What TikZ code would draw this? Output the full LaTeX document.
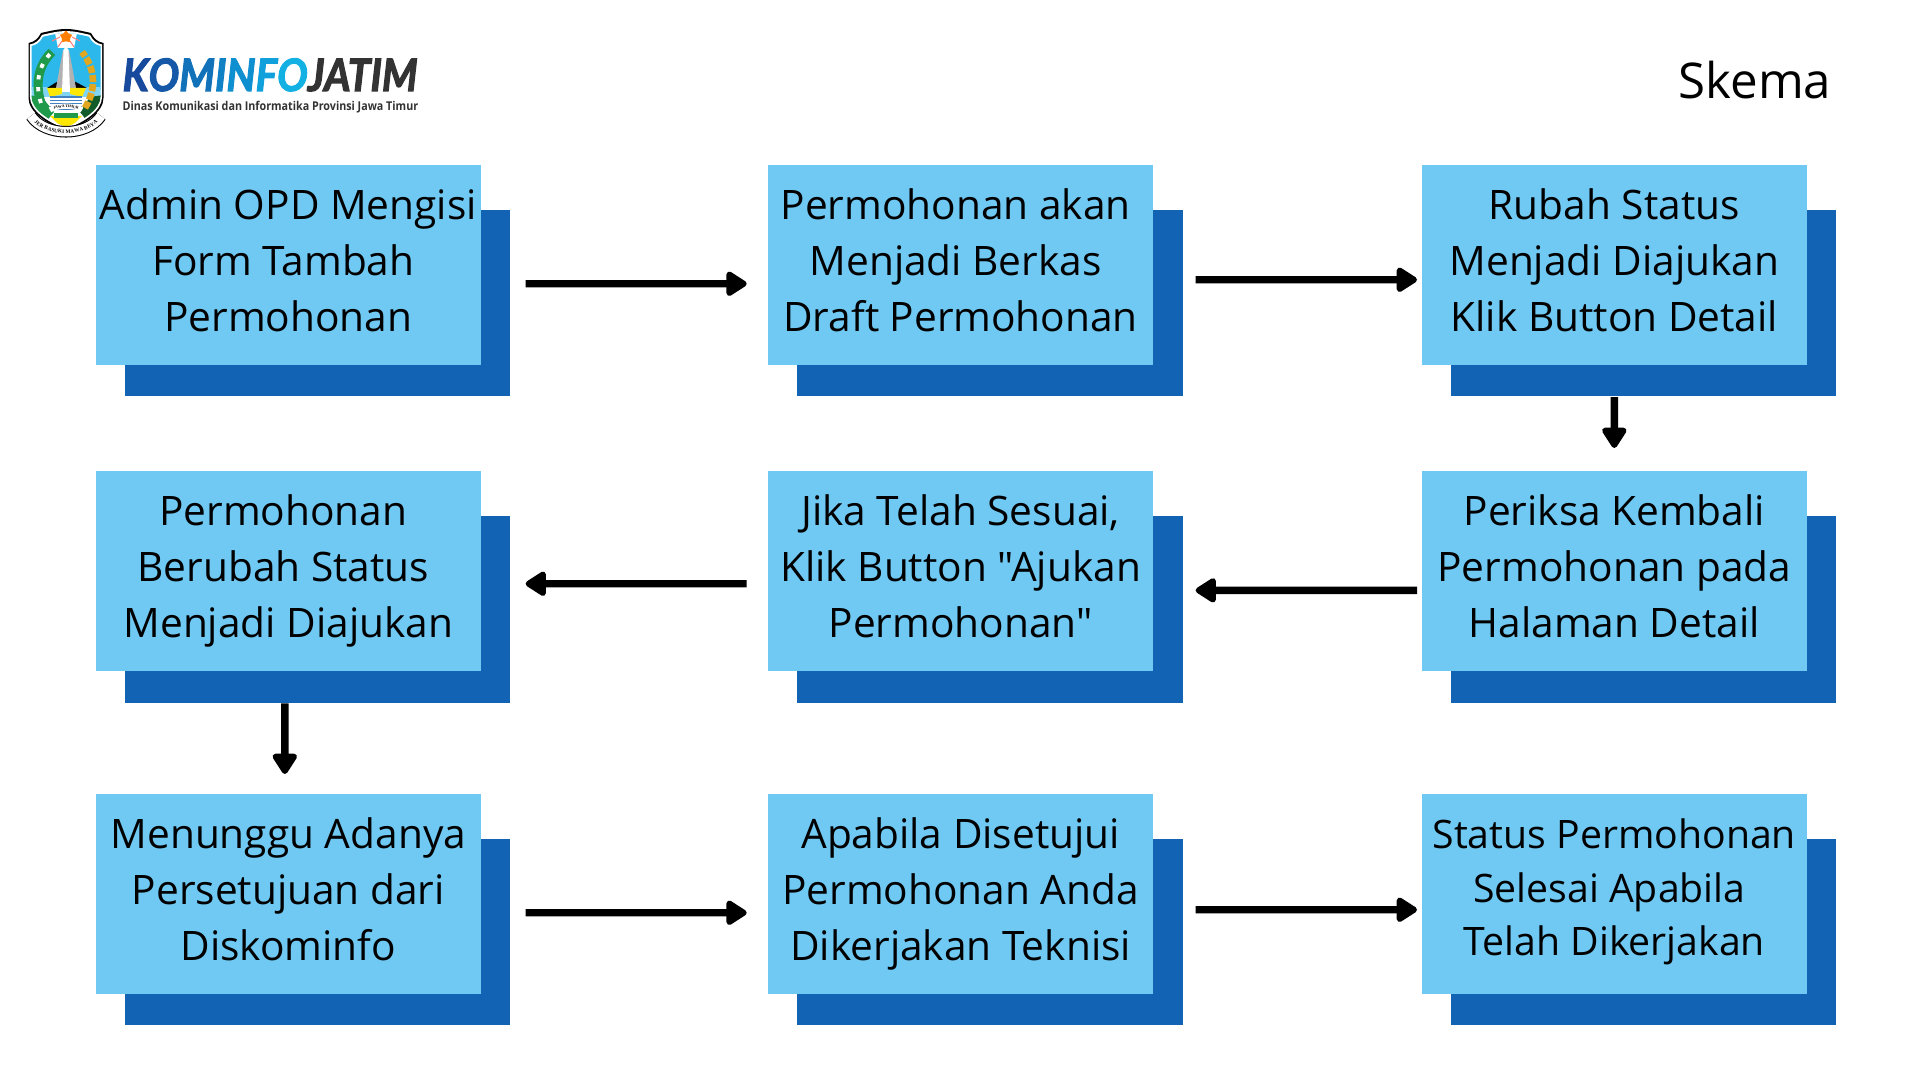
\documentclass[tikz,border=0pt]{standalone}
\usepackage{fontspec}
\setmainfont{Open Sans}[Ligatures=TeXOff]
\newfontfamily\ribbonfont{Liberation Serif}
\newfontfamily\logofont{Lato}[BoldItalicFeatures={FakeBold=2.6}]
\usetikzlibrary{arrows.meta,shapes.geometric,decorations.text}
\definecolor{boxlight}{HTML}{70C9F3}
\definecolor{boxdark}{HTML}{1263B3}
\definecolor{fieldsky}{HTML}{2DB8EC}
\definecolor{leafgreen}{HTML}{1E9A4A}
\definecolor{wheatgold}{HTML}{E3A71F}
\definecolor{logogrey}{HTML}{333333}
\newcommand{\shieldoutline}{(28.5,43) .. controls (34,42) and (38,39) .. (41,33) .. controls (50,31) and (58,29) .. (66,29) .. controls (74,29) and (82,31) .. (91,33) .. controls (94,39) and (98,42) .. (103.5,43) -- (103.5,98) .. controls (103.5,112) and (85,124) .. (66,131) .. controls (47,124) and (28.5,112) .. (28.5,98) -- cycle}
\newcommand{\logoletter}[2]{\textcolor[HTML]{#1}{#2}}
\newcommand{\nudge}{\rule{1mm}{0pt}}
\tikzset{
  lightbox/.style={fill=boxlight, minimum width=3.85cm, minimum height=1.997cm, inner sep=0pt, anchor=north west, align=center, font=\fontsize{11.55}{15.93}\selectfont,
    execute at begin node={\rule{0pt}{10pt}}, execute at end node={\rule[-2.54pt]{0pt}{0pt}}},
  darkbox/.style={fill=boxdark, minimum width=3.855cm, minimum height=1.86cm, inner sep=0pt, anchor=north west},
  flowarrow/.style={line width=2.1pt, -{Triangle[round,length=2.3mm,width=2.75mm,line width=.6mm]}},
}
\begin{document}
\begin{tikzpicture}[x=0.01cm, y=-0.01cm]
    \useasboundingbox (0, 0) rectangle (1920, 1080);
    \fill[white] (0, 0) rectangle (1920, 1080);

    % emblem
    \fill[black] \shieldoutline;
    \fill[white, shift={(66, 80)}, scale=.96, shift={(-66, -80)}] \shieldoutline;
    \begin{scope}
        \clip[shift={(66, 80)}, scale=.92, shift={(-66, -80)}] \shieldoutline;
        \fill[fieldsky] (25, 25) rectangle (107, 90);
        \fill[white] (54, 28) -- (78, 28) -- (74, 48) -- (58, 48) -- cycle;
        \fill[fieldsky!60!white] (25, 87) rectangle (107, 97);
        \fill[black] (47, 88) -- (60, 80) -- (72, 80) -- (87, 88) -- cycle;
        \fill[gray!60] (56, 88) -- (60, 66) -- (63, 50) -- (69, 50) -- (72, 66) -- (76, 88) -- cycle;
        \fill[white] (62, 92) -- (63.5, 50) -- (66, 46) -- (68.5, 50) -- (70, 92) -- cycle;
        \fill[yellow!90!orange] (47, 88) -- (62, 88) -- (62, 94) -- (50, 97) -- cycle;
        \fill[yellow!90!orange] (70, 88) -- (86, 88) -- (82, 97) -- (70, 94) -- cycle;
        \fill[boxdark!80!white] (50, 96) -- (82, 96) -- (82, 110) -- (50, 110) -- cycle;
        \foreach \wavey in {99, 102, 105}
            \draw[white, line width=.3pt] (50, \wavey) -- (82, \wavey);
        \fill[leafgreen] (28, 95) -- (42, 97) -- (54, 112) -- (46, 122) -- (28, 112) -- cycle;
        \fill[leafgreen!60!black] (104, 95) -- (90, 97) -- (80, 112) -- (88, 122) -- (104, 112) -- cycle;
        \fill[yellow!90!orange] (50, 116) -- (82, 116) -- (66, 132) -- cycle;
        \fill[leafgreen] (54, 113) rectangle (78, 118);
    \end{scope}
    \node[star, star points=5, fill=orange, minimum size=.13cm, inner sep=0pt] (logostar) at (66, 37) {};
    \draw[red!50, line width=.3pt] (52, 41) -- (60, 37) (80, 41) -- (72, 37) (58, 47) -- (62, 41) (74, 47) -- (70, 41);
    \draw[leafgreen, line width=2.6pt] (41, 103) .. controls (35, 85) and (38, 65) .. (52, 52);
    \draw[white, line width=1.1pt, dash pattern=on 1.2pt off 2.2pt] (41, 103) .. controls (35, 85) and (38, 65) .. (52, 52);
    \draw[wheatgold, line width=1.9pt, dash pattern=on 2pt off .6pt] (85, 108) .. controls (97, 88) and (95, 68) .. (82, 52);
    \draw[black, line width=3.3pt] (31, 116) .. controls (45, 137) and (87, 137) .. (101, 116);
    \draw[white, line width=2.7pt] (31, 116) .. controls (45, 137) and (87, 137) .. (101, 116);
    \path[decorate, decoration={text along path, text align=center, raise=-.5pt, text={|\ribbonfont\bfseries\fontsize{1.5}{2}\selectfont|JER BASUKI MAWA BEYA}}] (31, 116) .. controls (45, 137) and (87, 137) .. (101, 116);
    \draw[white, line width=1.5pt] (50, 110) .. controls (56, 105) and (76, 105) .. (82, 110);
    \path[decorate, decoration={text along path, text align=center, raise=-.4pt, text={|\ribbonfont\bfseries\fontsize{1.1}{1.5}\selectfont|JAWA TIMUR}}] (50, 110) .. controls (56, 105) and (76, 105) .. (82, 110);

    % wordmark
    \node[anchor=base west, inner sep=0pt, xscale=.91, font=\logofont\fontsize{12.7}{14}\selectfont\bfseries\itshape] (logoname) at (122, 91) {\logoletter{174A9C}{K}\logoletter{1558A8}{O}\logoletter{1272B9}{M}\logoletter{1181C6}{I}\logoletter{0E8FD0}{N}\logoletter{10A0DB}{F}\logoletter{12B0E3}{O}\logoletter{333333}{JATIM}};
    \node[anchor=base west, inner sep=0pt, xscale=.885, text=logogrey, font=\fontsize{3.45}{4}\selectfont\bfseries] (logosub) at (122, 110.5) {Dinas Komunikasi dan Informatika Provinsi Jawa Timur};
    \node[anchor=base east, inner sep=0pt, font=\fontsize{14}{16}\selectfont] (skema) at (1832, 99) {Skema};

    % row one
    \node[darkbox] (tambahback) at (124, 209.6) {};
    \node[lightbox] (tambah) at (95, 164) {Admin OPD Mengisi\\Form Tambah\nudge\\Permohonan};
    \node[darkbox] (draftback) at (796.3, 209.6) {};
    \node[lightbox] (draft) at (767.3, 164) {Permohonan akan\nudge\\Menjadi Berkas\nudge\\Draft Permohonan};
    \node[darkbox] (rubahback) at (1449.8, 209.6) {};
    \node[lightbox] (rubah) at (1421, 164) {Rubah Status\\Menjadi Diajukan\\Klik Button Detail};

    % row two
    \node[darkbox] (periksaback) at (1449.8, 515.8) {};
    \node[lightbox] (periksa) at (1421, 470.3) {Periksa Kembali\\Permohonan pada\\Halaman Detail};
    \node[darkbox] (ajukanback) at (796.3, 515.8) {};
    \node[lightbox] (ajukan) at (767.3, 470.3) {Jika Telah Sesuai,\\Klik Button "Ajukan\\Permohonan"};
    \node[darkbox] (berubahback) at (124, 515.8) {};
    \node[lightbox] (berubah) at (95, 470.3) {Permohonan\nudge\\Berubah Status\nudge\\Menjadi Diajukan};

    % row three
    \node[darkbox] (tungguback) at (124, 838.3) {};
    \node[lightbox] (tunggu) at (95, 793.3) {Menunggu Adanya\\Persetujuan dari\\Diskominfo};
    \node[darkbox] (setujuback) at (796.3, 838.3) {};
    \node[lightbox] (setuju) at (767.3, 793.3) {Apabila Disetujui\\Permohonan Anda\\Dikerjakan Teknisi};
    \node[darkbox] (selesaiback) at (1449.8, 838.3) {};
    \node[lightbox, font=\fontsize{11.15}{15.3}\selectfont] (selesai) at (1421, 793.3) {Status Permohonan\\Selesai Apabila\nudge\\Telah Dikerjakan\rule[-3.8pt]{0pt}{0pt}};

    \draw[flowarrow] ([shift={(14.5, -19.6)}]tambahback.east) -- ([shift={(-20.6, 19.15)}]draft.west);
    \draw[flowarrow] ([shift={(12.2, -23.6)}]draftback.east) -- ([shift={(-4, 15.15)}]rubah.west);
    \draw[flowarrow] ([shift={(-29.05, 0)}]rubahback.south) -- ([shift={(0, -22.3)}]periksa.north);
    \draw[flowarrow] ([shift={(-4, 19.45)}]periksa.west) -- ([shift={(12.2, -19.2)}]ajukanback.east);
    \draw[flowarrow] ([shift={(-20.6, 12.85)}]ajukan.west) -- ([shift={(14.5, -25.8)}]berubahback.east);
    \draw[flowarrow] ([shift={(-32.75, 0)}]berubahback.south) -- ([shift={(-3.5, -19.3)}]tunggu.north);
    \draw[flowarrow] ([shift={(14.5, -19.3)}]tungguback.east) -- ([shift={(-20.6, 18.85)}]setuju.west);
    \draw[flowarrow] ([shift={(12.2, -22.3)}]setujuback.east) -- ([shift={(-4, 15.85)}]selesai.west);
\end{tikzpicture}
\end{document}
